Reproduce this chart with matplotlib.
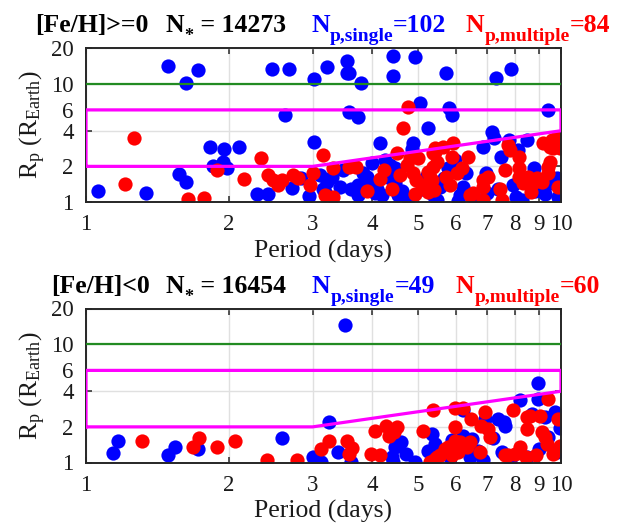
import matplotlib
matplotlib.use("Agg")
import matplotlib.pyplot as plt
from matplotlib.ticker import FixedLocator, NullLocator, FixedFormatter

plt.rcParams['font.family'] = ['Liberation Serif', 'DejaVu Serif']
plt.rcParams['mathtext.fontset'] = 'custom'
plt.rcParams['mathtext.rm'] = 'Liberation Serif'
plt.rcParams['mathtext.it'] = 'Liberation Serif:italic'
plt.rcParams['mathtext.bf'] = 'Liberation Serif:bold'

# ---------------- data: [Fe/H] >= 0 ----------------
hi_single_P = [1.49, 1.72, 1.62, 2.46, 2.68, 3.02, 3.21, 2.62, 3.02, 1.82,
               1.95, 2.10, 1.85, 1.94, 1.98, 1.57, 1.62, 1.06, 1.34, 2.29,
               2.42, 2.71, 3.11, 3.16, 3.54, 3.54, 3.58, 3.79, 4.42, 4.93,
               4.43, 3.58, 3.74, 5.06, 5.25, 4.16, 4.88, 4.85, 4.26, 4.37,
               4.47, 3.83, 3.48, 2.84, 3.21, 3.42, 3.74, 3.19, 3.74, 3.99,
               4.06, 4.19, 4.37, 4.47, 4.54, 4.77, 5.38, 5.47, 5.34, 5.72,
               7.30, 7.86, 5.82, 5.89, 9.41, 7.16, 7.22, 7.78, 8.48, 6.86,
               7.49, 8.10, 5.98, 5.79, 8.77, 7.93, 5.56, 6.22, 6.13, 6.07,
               7.38, 8.27, 9.26, 9.87, 9.79, 3.30, 3.62, 3.90, 4.10, 4.62,
               5.10, 5.20, 5.66, 6.30, 6.60, 7.00, 4.00, 8.80, 9.50, 2.95,
               6.95, 8.05]
hi_single_R = [14.2, 13.0, 10.1, 13.4, 13.4, 10.9, 13.9, 5.43, 3.23, 2.93,
               2.80, 2.93, 2.02, 2.19, 1.93, 1.71, 1.47, 1.25, 1.18, 1.16,
               1.16, 1.32, 1.69, 1.29, 15.5, 12.4, 12.2, 10.2, 17.2, 16.8,
               11.6, 5.80, 5.20, 6.80, 4.24, 3.13, 3.13, 2.79, 2.26, 2.05,
               1.93, 1.75, 1.86, 1.58, 1.48, 1.35, 1.39, 1.22, 1.15, 1.44,
               1.18, 1.15, 1.58, 1.44, 1.15, 1.07, 1.15, 1.04, 1.44, 12.2,
               11.1, 13.2, 6.20, 5.43, 6.00, 3.93, 3.45, 3.34, 3.34, 2.89,
               2.41, 2.75, 2.26, 1.93, 1.93, 1.39, 1.35, 1.35, 1.15, 1.01,
               1.30, 1.04, 1.17, 1.11, 1.58, 1.62, 1.28, 1.62, 1.30, 1.25,
               1.30, 1.62, 1.58, 1.75, 1.05, 1.20, 2.15, 1.25, 1.45, 1.12,
               1.75, 1.10]
hi_multi_P = [1.26, 1.21, 1.64, 1.77, 1.89, 2.15, 2.34, 2.42, 2.48, 2.54,
              2.59, 2.73, 2.80, 2.96, 3.00, 3.16, 3.19, 3.31, 3.31, 3.58,
              3.71, 4.77, 4.64, 4.52, 4.16, 4.58, 4.73, 4.81, 5.00, 4.88,
              4.96, 4.93, 5.25, 5.25, 5.34, 5.38, 5.43, 5.47, 5.93, 5.65,
              5.43, 5.89, 6.38, 5.38, 5.30, 5.74, 6.04, 5.84, 5.40, 6.43,
              6.86, 7.03, 6.86, 7.53, 7.64, 8.15, 8.15, 8.15, 7.75, 7.82,
              8.54, 8.74, 9.10, 8.66, 9.17, 9.58, 9.79, 9.94, 9.64, 9.49,
              9.41, 9.87, 8.33, 6.86, 7.45, 8.90, 9.41, 9.49, 6.54, 4.40,
              4.25, 3.90, 6.20, 5.10]
hi_multi_R = [3.45, 1.42, 1.06, 1.08, 1.86, 1.55, 2.34, 1.69, 1.53, 1.39,
              1.53, 1.69, 1.58, 1.39, 1.77, 2.49, 1.15, 1.93, 1.11, 1.99,
              1.99, 6.37, 4.18, 2.58, 1.55, 1.69, 2.05, 2.34, 2.34, 1.75,
              1.53, 1.17, 1.22, 1.80, 1.53, 2.58, 2.84, 2.19, 3.13, 2.93,
              2.66, 2.41, 2.41, 1.99, 1.64, 1.64, 1.75, 1.39, 1.26, 1.15,
              1.35, 1.64, 1.04, 1.04, 1.86, 1.93, 1.64, 2.41, 3.03, 2.75,
              1.64, 1.44, 1.48, 1.22, 3.13, 3.34, 3.56, 2.84, 2.84, 2.19,
              1.75, 1.35, 1.44, 1.53, 1.30, 1.58, 1.99, 2.93, 1.18, 1.30,
              1.85, 1.25, 1.95, 1.40]

# ---------------- data: [Fe/H] < 0 ----------------
lo_single_P = [1.17, 1.14, 1.54, 1.49, 1.72, 2.58, 3.00, 3.13, 3.24, 3.51,
               3.40, 3.61, 4.47, 4.40, 4.43, 4.72, 4.93, 5.34, 5.43, 5.25,
               8.93, 8.93, 8.21, 9.72, 9.26, 6.22, 6.92, 7.38, 7.64, 6.22,
               6.43, 6.43, 6.86, 7.51, 7.82, 8.48, 9.41, 9.79, 5.84, 5.63,
               7.60, 6.50, 9.00, 8.70, 6.70, 5.90, 7.20, 4.60, 9.95]
lo_single_R = [1.53, 1.20, 1.35, 1.16, 1.29, 1.60, 1.11, 1.01, 2.22, 14.6,
               1.22, 1.01, 1.35, 1.11, 1.01, 1.18, 1.01, 1.75, 1.44, 1.25,
               4.71, 3.45, 3.38, 2.66, 2.41, 2.75, 2.34, 2.34, 2.05, 1.69,
               1.53, 1.11, 1.04, 1.22, 1.04, 1.11, 1.64, 1.22, 1.11, 1.18,
               2.19, 1.58, 1.30, 2.55, 1.25, 1.55, 1.60, 1.50, 1.95]
lo_multi_P = [1.31, 1.73, 1.68, 1.89, 2.06, 2.40, 2.78, 3.13, 3.24, 3.54,
              3.63, 3.58, 4.06, 4.28, 4.52, 4.35, 3.99, 4.16, 5.12, 5.38,
              5.30, 5.47, 5.98, 6.22, 6.48, 6.92, 5.98, 7.03, 7.09, 7.93,
              8.48, 8.61, 9.04, 9.41, 8.48, 9.87, 9.10, 9.33, 9.26, 9.94,
              9.64, 5.98, 6.13, 6.35, 6.07, 6.76, 5.70, 5.56, 7.75, 8.00,
              8.42, 8.87, 6.43, 5.79, 5.43, 5.89, 7.64, 4.45, 6.80, 8.20]
lo_multi_R = [1.53, 1.60, 1.35, 1.35, 1.53, 1.06, 1.04, 1.31, 1.53, 1.53,
              1.33, 1.17, 1.86, 2.05, 1.99, 1.66, 1.18, 1.15, 1.86, 2.75,
              1.01, 1.11, 2.89, 2.89, 2.34, 2.66, 1.99, 1.93, 1.64, 2.79,
              2.41, 2.49, 2.49, 3.45, 1.93, 2.34, 1.80, 1.44, 1.64, 1.39,
              1.18, 1.53, 1.48, 1.35, 1.22, 1.22, 1.31, 1.15, 1.15, 1.18,
              1.11, 1.15, 1.48, 1.35, 1.07, 1.15, 1.15, 1.80, 2.05, 1.35]

# panel headers
hi_label, hi_nstar = "[Fe/H]>=0", 14273
lo_label, lo_nstar = "[Fe/H]<0", 16454

# reference boundaries
giant_limit = 10.0
box_x = [1, 3, 10, 10, 1, 1]
box_y = [2, 2, 4, 6, 6, 2]

x_ticks = [1, 2, 3, 4, 5, 6, 7, 8, 9, 10]
y_ticks = [1, 2, 4, 6, 10, 20]

BLUE = '#0000ff'
RED = '#ff0000'
W, H = 618, 524

fig = plt.figure(figsize=(W / 100, H / 100), dpi=100)
renderer = fig.canvas.get_renderer()


def style_axes(ax):
    ax.set_xscale('log')
    ax.set_yscale('log')
    ax.set_xlim(1, 10)
    ax.set_ylim(1, 20)
    ax.xaxis.set_major_locator(FixedLocator(x_ticks))
    ax.xaxis.set_major_formatter(FixedFormatter([str(v) for v in x_ticks]))
    ax.xaxis.set_minor_locator(NullLocator())
    ax.yaxis.set_major_locator(FixedLocator(y_ticks))
    ax.yaxis.set_major_formatter(FixedFormatter([str(v) for v in y_ticks]))
    ax.yaxis.set_minor_locator(NullLocator())
    ax.grid(True, color='#e0e0e0', lw=1.0)
    ax.set_axisbelow(True)
    ax.tick_params(direction='in', length=4, width=1.1, colors='#262626',
                   labelcolor='#1a1a1a', labelsize=16.5, pad=9,
                   top=True, right=True)
    for s in ax.spines.values():
        s.set_color('#262626')
        s.set_linewidth(1.4)
    ax.set_xlabel('Period (days)', fontsize=18.5, color='#1a1a1a', labelpad=3)
    ax.set_ylabel(r'R$_\mathrm{p}$ (R$_\mathrm{Earth}$)', fontsize=18.5,
                  color='#1a1a1a', labelpad=2)


def draw_panel(rect, sP, sR, mP, mR):
    ax = fig.add_axes(rect)
    style_axes(ax)
    ax.scatter(sP, sR, s=105, c=BLUE, linewidths=0, zorder=2)
    ax.scatter(mP, mR, s=105, c=RED, linewidths=0, zorder=2)
    ax.axhline(giant_limit, color='#228b22', lw=1.6, zorder=3)
    ax.plot(box_x, box_y, color='#ff00ff', lw=2.3, zorder=3,
            solid_joinstyle='miter')
    return ax


def run(x_px, y_base, pieces, color):
    """Lay out (text, size, drop_px) pieces left to right from x_px."""
    x = x_px
    for text, size, drop in pieces:
        t = fig.text(x / W, 1 - (y_base + drop) / H, text, color=color,
                     fontsize=size, fontweight='bold', ha='left',
                     va='baseline')
        x += t.get_window_extent(renderer).width


def header(y_base, label, x_label, nstar, x_n, n_single, x_s, n_multi, x_m):
    run(x_label, y_base, [(label, 18.5, 0)], 'black')
    run(x_n, y_base, [('N', 18.5, 0), ('*', 13, 9),
                      (' = %d' % nstar, 18.5, 0)], 'black')
    run(x_s, y_base, [('N', 18.5, 0), ('p,single', 14, 9),
                      ('=%d' % n_single, 18.5, 0)], BLUE)
    run(x_m, y_base, [('N', 18.5, 0), ('p,multiple', 14, 9),
                      ('=%d' % n_multi, 18.5, 0)], RED)


ax_hi = draw_panel([86 / W, 1 - 202 / H, 475 / W, 154 / H],
                   hi_single_P, hi_single_R, hi_multi_P, hi_multi_R)
ax_lo = draw_panel([86 / W, 1 - 462.5 / H, 475 / W, 154 / H],
                   lo_single_P, lo_single_R, lo_multi_P, lo_multi_R)

header(32, hi_label, 35, hi_nstar, 166, len(hi_single_P), 311,
       len(hi_multi_P), 466)
header(293, lo_label, 51, lo_nstar, 166, len(lo_single_P), 312,
       len(lo_multi_P), 456)

fig.savefig('out.png', dpi=100)
